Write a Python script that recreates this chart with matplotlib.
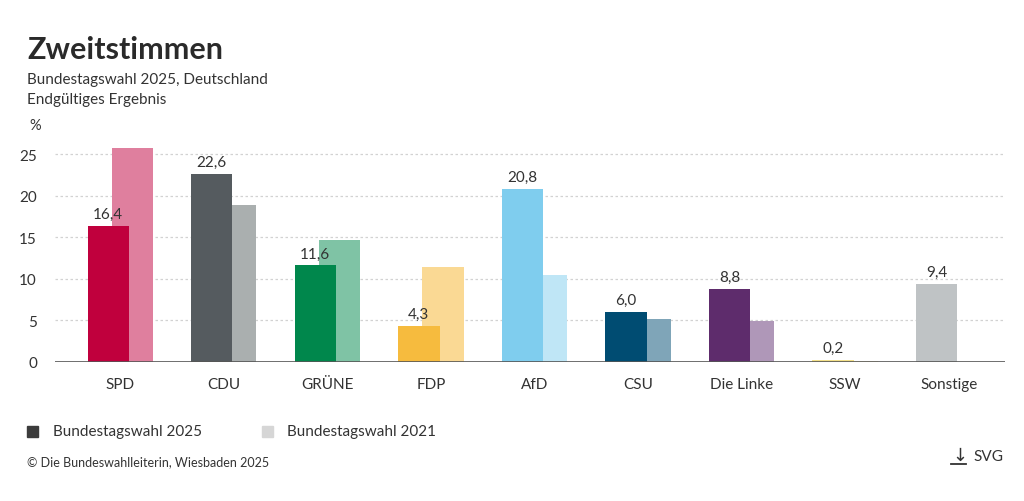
import numpy as np
import matplotlib.pyplot as plt

parties = ['SPD', 'CDU', 'GRÜNE', 'FDP', 'AfD', 'CSU', 'Die Linke', 'SSW', 'Sonstige']
votes_2025 = [16.4, 22.6, 11.6, 4.3, 20.8, 6.0, 8.8, 0.2, 9.4]
votes_2021 = [25.7, 18.9, 14.7, 11.4, 10.4, 5.2, 4.9, 0.1, None]
colors_2025 = ['#c0003d', '#555b5f', '#00874c', '#f6bb3e', '#7fcdee',
               '#004c72', '#5e2c6c', '#f3e08a', '#bfc3c5']
colors_2021 = ['#df7f9e', '#aaafaf', '#7fc3a5', '#fad994', '#bfe6f6',
               '#7fa5b8', '#af97b8', '#f9efc4', '#dfe1e2']

plt.rcParams['font.family'] = ['Lato', 'DejaVu Sans']
text_col = '#333333'

fig = plt.figure(figsize=(10.24, 5.02), dpi=100)
ax = fig.add_axes([0.0537, 0.2769, 0.9273, 0.4309])

x = np.arange(len(parties))
w = 0.40
off = 0.116
for i in x:
    if votes_2021[i] is not None:
        ax.bar(i + off, votes_2021[i], width=w, color=colors_2021[i], zorder=2)
    ax.bar(i - off, votes_2025[i], width=w, color=colors_2025[i], zorder=3)
    ax.text(i - off, votes_2025[i] + 0.6, f'{votes_2025[i]:.1f}'.replace('.', ','),
            ha='center', va='bottom', fontsize=11, color=text_col, zorder=4)

ax.set_xlim(-0.63, 8.54)
ax.set_ylim(0, 26)
ax.set_yticks([0, 5, 10, 15, 20, 25])
ax.set_xticks(x)
ax.set_xticklabels(parties)
for y in [5, 10, 15, 20, 25]:
    ax.axhline(y, color='#d2d2d2', lw=0.9, ls=(0, (2, 2)), zorder=1)
ax.axhline(0, color='#555555', lw=1.2, zorder=5)
for s in ax.spines.values():
    s.set_visible(False)
ax.tick_params(axis='both', length=0, labelsize=11, labelcolor=text_col)
ax.tick_params(axis='x', pad=11)
ax.tick_params(axis='y', pad=13)

fig.text(27 / 1024, 1 - 50 / 502, 'Zweitstimmen', fontsize=22, fontweight='bold',
         color='#2a2a2a', va='center', ha='left')
fig.text(27 / 1024, 1 - 80 / 502, 'Bundestagswahl 2025, Deutschland', fontsize=11,
         color=text_col, va='center', ha='left')
fig.text(27 / 1024, 1 - 100 / 502, 'Endgültiges Ergebnis', fontsize=11,
         color=text_col, va='center', ha='left')
fig.text(29 / 1024, 1 - 126 / 502, '%', fontsize=10.5, color=text_col, va='center', ha='left')

# legend
for sx, tx, col, lab in [(27, 53, '#3c3c3c', 'Bundestagswahl 2025'),
                         (262, 287, '#d6d6d6', 'Bundestagswahl 2021')]:
    fig.patches.append(plt.Rectangle((sx / 1024, 1 - 438 / 502), 11 / 1024, 11 / 502,
                                     transform=fig.transFigure, color=col))
    fig.text(tx / 1024, 1 - 432 / 502, lab, fontsize=11, color=text_col,
             va='center', ha='left')

fig.text(27 / 1024, 1 - 462 / 502, '© Die Bundeswahlleiterin, Wiesbaden 2025',
         fontsize=9, color=text_col, va='center', ha='left')
fig.text(952 / 1024, 1 - 456 / 502, '↓', fontsize=13, color=text_col, va='center',
         ha='left', family='DejaVu Sans')
fig.add_artist(plt.Line2D([951 / 1024, 966 / 1024], [1 - 465 / 502, 1 - 465 / 502],
                          color=text_col, lw=1.3))
fig.text(973 / 1024, 1 - 457 / 502, 'SVG', fontsize=11, color=text_col,
         va='center', ha='left')

fig.savefig('out.png', dpi=100)
